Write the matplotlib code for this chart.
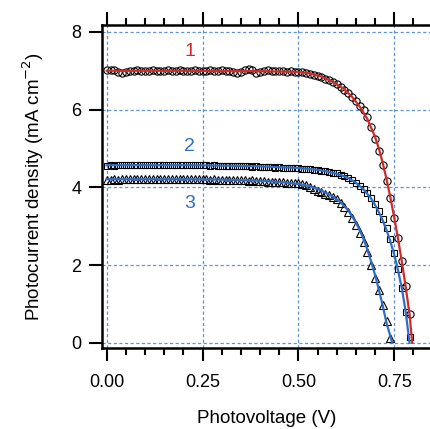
"""
J-V curves of three cells, open markers = measured, lines = fit
Saves out.png
"""
import matplotlib
matplotlib.use("Agg")
import matplotlib.pyplot as plt
from matplotlib.ticker import MultipleLocator, FixedLocator

plt.rcParams["font.family"] = ["Liberation Sans", "DejaVu Sans"]

# ── data ────────────────────────────────────────────────────────
v = [round(0.01 * i, 2) for i in range(80)]        # 0.00 .. 0.79 V

j1 = [7.02, 7.03, 7.01, 6.98, 6.95, 6.97, 6.99, 7.00, 7.01, 7.00,
      6.99, 7.00, 7.01, 7.00, 7.00, 6.99, 7.01, 7.00, 7.00, 7.01,
      6.99, 7.00, 7.00, 7.01, 7.00, 7.00, 6.99, 7.01, 7.00, 7.00,
      7.01, 7.00, 6.99, 6.96, 6.94, 6.98, 7.03, 7.05, 7.01, 6.93,
      6.96, 7.00, 7.01, 7.00, 6.99, 7.00, 6.99, 6.98, 6.99, 6.98,
      6.97, 6.96, 6.94, 6.92, 6.89, 6.86, 6.83, 6.79, 6.75, 6.71,
      6.66, 6.59, 6.51, 6.42, 6.32, 6.21, 6.10, 5.98, 5.80, 5.55,
      5.25, 4.93, 4.58, 4.17, 3.72, 3.22, 2.70, 2.10, 1.45, 0.74]

j2 = [4.56, 4.57, 4.56, 4.57, 4.58, 4.57, 4.57, 4.58, 4.57, 4.58,
      4.58, 4.57, 4.58, 4.58, 4.57, 4.58, 4.58, 4.57, 4.58, 4.58,
      4.57, 4.58, 4.57, 4.57, 4.58, 4.57, 4.57, 4.56, 4.57, 4.56,
      4.56, 4.55, 4.56, 4.55, 4.55, 4.54, 4.55, 4.54, 4.53, 4.54,
      4.53, 4.52, 4.53, 4.52, 4.51, 4.52, 4.51, 4.50, 4.50, 4.49,
      4.49, 4.48, 4.47, 4.46, 4.45, 4.44, 4.43, 4.41, 4.40, 4.38,
      4.36, 4.33, 4.30, 4.25, 4.18, 4.10, 4.03, 3.95, 3.85, 3.72,
      3.56, 3.38, 3.18, 2.96, 2.68, 2.32, 1.90, 1.40, 0.80, 0.15]

v3 = v[:75]                                         # 0.00 .. 0.74 V
j3 = [4.19, 4.20, 4.21, 4.20, 4.21, 4.22, 4.21, 4.22, 4.21, 4.22,
      4.22, 4.21, 4.22, 4.22, 4.21, 4.22, 4.21, 4.22, 4.22, 4.21,
      4.22, 4.21, 4.22, 4.21, 4.22, 4.21, 4.21, 4.20, 4.21, 4.20,
      4.20, 4.19, 4.20, 4.19, 4.18, 4.19, 4.18, 4.17, 4.18, 4.17,
      4.16, 4.16, 4.15, 4.15, 4.14, 4.14, 4.13, 4.12, 4.12, 4.11,
      4.10, 4.08, 4.05, 4.01, 3.96, 3.91, 3.87, 3.84, 3.80, 3.75,
      3.69, 3.60, 3.50, 3.37, 3.20, 3.02, 2.82, 2.60, 2.33, 2.00,
      1.68, 1.35, 0.98, 0.55, 0.13]

# fitted curves
vf1 = [0.00, 0.10, 0.20, 0.30, 0.40, 0.45, 0.50, 0.53, 0.56, 0.59,
       0.62, 0.64, 0.66, 0.68, 0.70, 0.71, 0.72, 0.73, 0.74, 0.75,
       0.76, 0.77, 0.78, 0.79, 0.797]
jf1 = [7.00, 7.00, 7.00, 6.99, 6.99, 6.98, 6.97, 6.93, 6.85, 6.72,
       6.52, 6.33, 6.08, 5.76, 5.30, 5.00, 4.63, 4.21, 3.74, 3.23,
       2.68, 2.08, 1.44, 0.74, 0.00]

vf2 = [0.00, 0.10, 0.20, 0.30, 0.40, 0.45, 0.50, 0.55, 0.58, 0.61,
       0.63, 0.65, 0.67, 0.69, 0.70, 0.71, 0.72, 0.73, 0.74, 0.75,
       0.76, 0.77, 0.78, 0.79]
jf2 = [4.57, 4.57, 4.57, 4.56, 4.54, 4.52, 4.50, 4.45, 4.40, 4.32,
       4.24, 4.12, 3.95, 3.71, 3.55, 3.36, 3.15, 2.90, 2.61, 2.27,
       1.87, 1.40, 0.80, 0.00]

vf3 = [0.00, 0.10, 0.20, 0.30, 0.40, 0.45, 0.50, 0.53, 0.56, 0.59,
       0.61, 0.63, 0.65, 0.66, 0.67, 0.68, 0.69, 0.70, 0.71, 0.72,
       0.73, 0.745]
jf3 = [4.21, 4.21, 4.21, 4.20, 4.17, 4.14, 4.09, 4.03, 3.92, 3.76,
       3.62, 3.41, 3.10, 2.90, 2.67, 2.40, 2.09, 1.75, 1.37, 0.96,
       0.51, 0.00]

labels = ["1", "2", "3"]
label_pos = [(0.217, 7.49), (0.217, 5.06), (0.217, 3.59)]

# ── colours ─────────────────────────────────────────────────────
C_RED  = "#d02a2a"
C_BLUE = "#2f6ec4"
C_GRID = "#5f93d6"

fig = plt.figure(figsize=(4.31, 4.29), dpi=100)
ax = fig.add_axes([0.236, 0.189, 0.764, 0.753])

ax.set_xlim(-0.013, 0.846)
ax.set_ylim(-0.13, 8.18)

for x in [0.0, 0.25, 0.5, 0.75]:
    ax.axvline(x, color=C_GRID, lw=0.9, ls=(0, (2.5, 2)), zorder=1)
for y in [0, 2, 4, 6, 8]:
    ax.axhline(y, color=C_GRID, lw=0.9, ls=(0, (2.5, 2)), zorder=1)

mk = dict(mfc="none", mec="black", mew=0.8, ls="none", zorder=3)
ax.plot(v, j1, marker="o", ms=5.2, **mk)
ax.plot(v, j2, marker="s", ms=4.8, **mk)
ax.plot(v3, j3, marker="^", ms=5.4, **mk)

ax.plot(vf1, jf1, color=C_RED, lw=1.6, zorder=4)
ax.plot(vf2, jf2, color=C_BLUE, lw=1.6, zorder=4)
ax.plot(vf3, jf3, color=C_BLUE, lw=1.6, zorder=4)

for s, (x, y), c in zip(labels, label_pos, [C_RED, C_BLUE, C_BLUE]):
    ax.text(x, y, s, color=c, fontsize=14, ha="center", va="center")

# ── axes styling ────────────────────────────────────────────────
ax.spines["right"].set_visible(False)
for side in ["left", "bottom", "top"]:
    ax.spines[side].set_linewidth(1.8)

ax.xaxis.set_major_locator(FixedLocator([0.0, 0.25, 0.5, 0.75]))
ax.xaxis.set_minor_locator(MultipleLocator(0.05))
ax.set_xticklabels(["0.00", "0.25", "0.50", "0.75"])
ax.yaxis.set_major_locator(FixedLocator([0, 2, 4, 6, 8]))

ax.tick_params(axis="x", which="both", direction="out", top=True,
               labeltop=False, width=1.5)
ax.tick_params(axis="x", which="major", length=9.5, pad=9, labelsize=13)
ax.tick_params(axis="x", which="minor", length=5)
ax.tick_params(axis="y", which="major", direction="out", length=9.5,
               width=1.5, pad=5, labelsize=13, right=False)

ax.set_xlabel("Photovoltage (V)", fontsize=13.5, labelpad=14)
ax.set_ylabel("Photocurrent density (mA cm$^{-2}$)", fontsize=13.5,
              labelpad=18)

fig.savefig("out.png", dpi=100)
